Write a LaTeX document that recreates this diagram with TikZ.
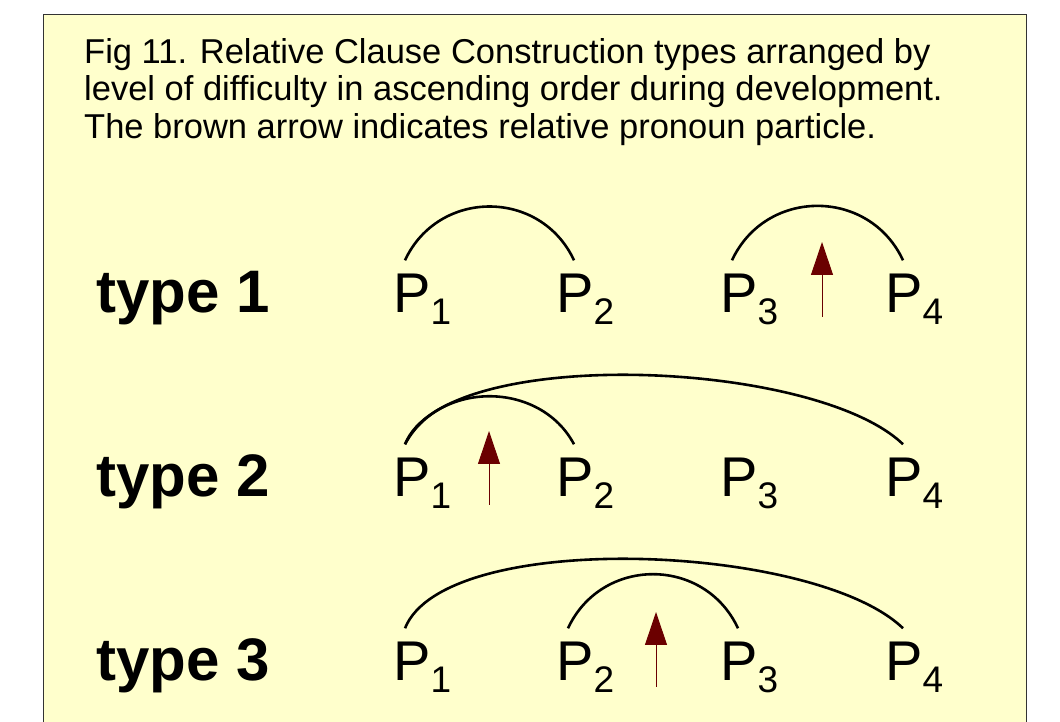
\documentclass[tikz,border=0pt]{standalone}
\usepackage{fontspec}
\setmainfont{Liberation Sans}
\usetikzlibrary{arrows.meta}
\definecolor{paper}{HTML}{FFFFCC}
\definecolor{frame}{HTML}{333333}
\definecolor{pronoun}{HTML}{6B0000}

\begin{document}
\begin{tikzpicture}[
    x=1pt, y=1pt,
    link/.style={line width=2.6pt},
    pointer/.style={pronoun, line width=1pt, -{Triangle[length=33pt,width=22pt]}},
    type label/.style={font=\fontsize{60}{60}\selectfont\bfseries, anchor=base west, inner sep=0pt},
    p label/.style={font=\fontsize{56}{56}\selectfont, anchor=base west, inner sep=0pt}
  ]
  \useasboundingbox (0,0) rectangle (1060,722);

  % 1. Фон
  \draw[frame, fill=paper, line width=1.2pt] (43.5,-10) rectangle (1026.5,707.5);

  % 2. Подпись
  \node[anchor=north west, inner sep=0pt, align=left, font=\fontsize{34.5}{37.5}\selectfont] (caption) at (84,684)
    {Fig 11. Relative Clause Construction types arranged by\\
     level of difficulty in ascending order during development.\\
     The brown arrow indicates relative pronoun particle.};

  % 3. Строки: type и P
  \foreach \row/\y in {1/409, 2/225, 3/41} {
    \node[type label] (type\row) at (96,\y) {type \row};
    \foreach \i/\x in {1/393, 2/556, 3/720, 4/885} {
      \node[p label] (p\row\i) at (\x,\y) {P\raisebox{-12pt}{\fontsize{37}{37}\selectfont\i}};
      \coordinate (l\row\i) at ([shift={(12,14)}]p\row\i.north west);
      \coordinate (r\row\i) at ([shift={(18,14)}]p\row\i.north west);
    }
  }

  % 4. Дуги
  \draw[link] (l11) to[out=65,in=115,looseness=1.2] (r12);
  \draw[link] (l13) to[out=65,in=115,looseness=1.2] (r14);
  \draw[link] (l21) to[out=62,in=118,looseness=1.1] (r22);
  \draw[link] (l21) .. controls +(40,100) and +(-88,85) .. (r24);
  \draw[link] (l32) to[out=65,in=115,looseness=1.2] (r33);
  \draw[link] (l31) .. controls +(40,100) and +(-88,85) .. (r34);

  % 5. Стрелки
  \foreach \row/\x/\b/\t in {1/822/405/480, 2/489/217/291, 3/656/35/110} {
    \coordinate (base\row) at (\x,\b);
    \coordinate (tip\row) at (\x,\t);
    \draw[pointer] (base\row) -- (tip\row);
  }

\end{tikzpicture}
\end{document}
